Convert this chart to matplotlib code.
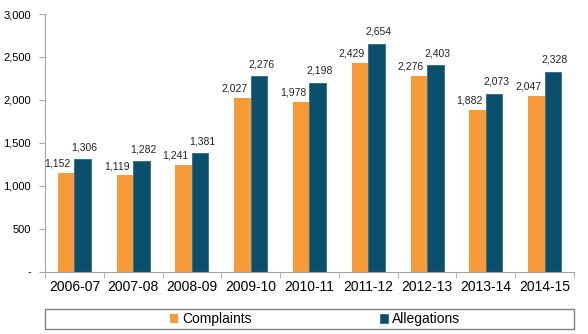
import matplotlib.pyplot as plt
import numpy as np
from matplotlib.patches import Rectangle

plt.rcParams.update({'font.family': 'Liberation Sans'})

years = ['2006-07', '2007-08', '2008-09', '2009-10', '2010-11',
         '2011-12', '2012-13', '2013-14', '2014-15']
complaints = [1152, 1119, 1241, 2027, 1978, 2429, 2276, 1882, 2047]
allegations = [1306, 1282, 1381, 2276, 2198, 2654, 2403, 2073, 2328]

orange = '#F79A3A'
blue = '#0B4F6C'
grey = '#A6A6A6'

fig = plt.figure(figsize=(5.88, 3.34), dpi=100)
ax = fig.add_axes([45 / 588, 1 - 271.5 / 334, 529 / 588, 257.5 / 334])

x = np.arange(len(years))
w = 0.28
b1 = ax.bar(x - w / 2, complaints, w, color=orange, label='Complaints')
b2 = ax.bar(x + w / 2, allegations, w, color=blue, edgecolor='#2E6A86', linewidth=0.6,
            label='Allegations')

# value labels
for xi, v in zip(x - w / 2, complaints):
    ax.annotate(f'{v:,}', (xi, v), xytext=(-6, 3), textcoords='offset points',
                ha='center', va='bottom', fontsize=7.5, color='#222222')
for xi, v in zip(x + w / 2, allegations):
    ax.annotate(f'{v:,}', (xi, v), xytext=(1.5, 5), textcoords='offset points',
                ha='center', va='bottom', fontsize=7.5, color='#222222')

ax.set_xlim(-0.5, len(years) - 0.5)
ax.set_ylim(0, 3000)
ax.set_yticks(range(0, 3001, 500))
ax.set_yticklabels(['-'] + [f'{t:,}' for t in range(500, 3001, 500)], fontsize=8)

ax.set_xticks(x)
ax.set_xticklabels(years, fontsize=10)
ax.tick_params(axis='x', length=0, pad=6)
ax.set_xticks(np.arange(-0.5, len(years)), minor=True)
ax.tick_params(axis='x', which='minor', length=4, color=grey)
ax.tick_params(axis='y', length=4, color=grey, pad=6)

for s in ['top', 'right']:
    ax.spines[s].set_visible(False)
for s in ['left', 'bottom']:
    ax.spines[s].set_color(grey)

# legend box drawn separately, items centred inside
fig.patches.append(Rectangle((44.5 / 588, 1 - 329 / 334), 529.5 / 588, 20 / 334,
                             transform=fig.transFigure, fill=False,
                             edgecolor='#808080', linewidth=1.0))
fig.legend(handles=[b1, b2], loc='center', ncol=2,
           bbox_to_anchor=(315 / 588, 1 - 319 / 334),
           fontsize=10, frameon=False,
           handlelength=0.6, handleheight=0.6, handletextpad=0.3,
           borderpad=0.0, columnspacing=9.2)

plt.savefig('out.png', dpi=100)
